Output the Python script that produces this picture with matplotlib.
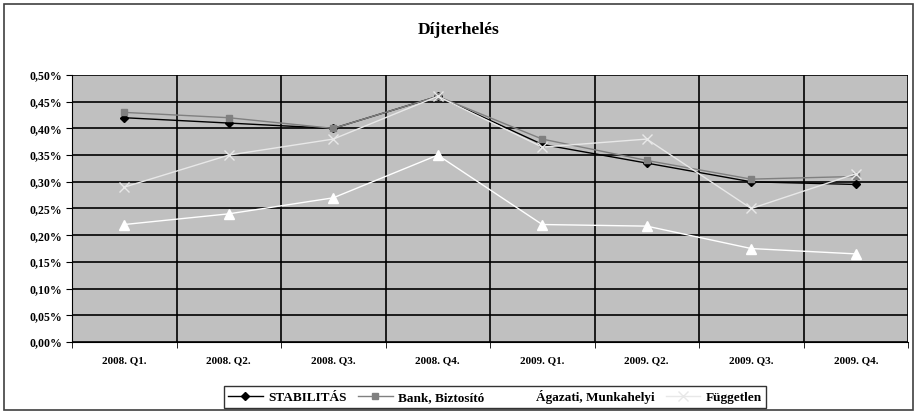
import matplotlib.pyplot as plt
from matplotlib.patches import Rectangle
from matplotlib.ticker import FuncFormatter, MultipleLocator
import numpy as np

plt.rcParams["font.family"] = ["Liberation Serif", "DejaVu Serif"]
plt.rcParams["font.weight"] = "bold"

quarters = ["2008. Q1.", "2008. Q2.", "2008. Q3.", "2008. Q4.",
            "2009. Q1.", "2009. Q2.", "2009. Q3.", "2009. Q4."]
stabilitas = [0.420, 0.410, 0.400, 0.460, 0.370, 0.335, 0.300, 0.295]
bank = [0.430, 0.420, 0.400, 0.460, 0.380, 0.340, 0.305, 0.310]
agazati = [0.220, 0.240, 0.270, 0.350, 0.220, 0.217, 0.175, 0.165]
fuggetlen = [0.290, 0.350, 0.380, 0.460, 0.365, 0.380, 0.250, 0.315]

fig = plt.figure(figsize=(9.17, 4.12), dpi=100)
ax = fig.add_axes([72 / 917, 1 - 342 / 412, 836 / 917, 267 / 412])
ax.set_facecolor("#c0c0c0")

x = np.arange(len(quarters))
ax.plot(x, stabilitas, color="black", marker="D", ms=4.5, lw=1.0, label="STABILITÁS")
ax.plot(x, bank, color="#808080", marker="s", ms=5, lw=1.0, label="Bank, Biztosító")
ax.plot(x, agazati, color="white", marker="^", ms=6.5, lw=1.0, label="Ágazati, Munkahelyi")
ax.plot(x, fuggetlen, color="#e8e8e8", marker="x", ms=7, mew=1, lw=1.0, label="Független")

ax.set_xlim(-0.5, len(quarters) - 0.5)
ax.set_ylim(0, 0.50)
ax.yaxis.set_major_locator(MultipleLocator(0.05))
ax.yaxis.set_major_formatter(FuncFormatter(lambda v, p: f"{v:.2f}%".replace(".", ",")))
ax.set_xticks(x)
ax.set_xticklabels(quarters)
ax.set_xticks(np.arange(len(quarters) + 1) - 0.5, minor=True)
ax.grid(axis="y", which="major", color="black", lw=1.2)
ax.grid(axis="x", which="minor", color="black", lw=1.2)
ax.set_axisbelow(True)
ax.tick_params(axis="x", which="major", length=0, pad=10, labelsize=8)
ax.tick_params(axis="x", which="minor", length=4, direction="out")
ax.tick_params(axis="y", length=4, direction="out", labelsize=8.5, pad=3)
for lbl in ax.get_xticklabels() + ax.get_yticklabels():
    lbl.set_fontweight("bold")
for s in ["top", "right"]:
    ax.spines[s].set_visible(False)
ax.spines["left"].set_color("black")
ax.spines["bottom"].set_color("black")

fig.text(0.5, 1 - 30 / 412, "Díjterhelés", ha="center", va="center",
         fontsize=12.5, fontweight="bold")

leg = fig.legend(loc="center", bbox_to_anchor=(495 / 917, 1 - 397 / 412), ncol=4,
                 frameon=True, fancybox=False, edgecolor="black",
                 handlelength=2.6, handletextpad=0.4, columnspacing=0.9,
                 borderpad=0.3, prop={"weight": "bold", "size": 9.5})
leg.get_frame().set_linewidth(1.0)

fig.patches.append(Rectangle((4 / 917, 2 / 412), 909 / 917, 406 / 412,
                             transform=fig.transFigure, fill=False,
                             edgecolor="#404040", lw=1.2))

fig.savefig("out.png", dpi=100)
